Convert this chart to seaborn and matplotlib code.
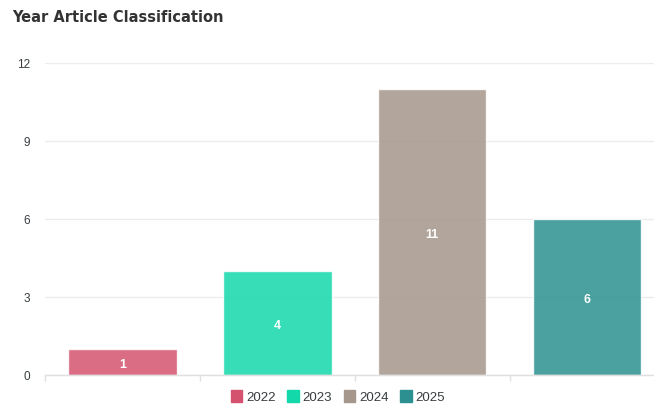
import matplotlib
matplotlib.use("Agg")
import matplotlib.pyplot as plt
import seaborn as sns
import pandas as pd
from matplotlib.patches import Patch
from matplotlib import transforms

years = ["2022", "2023", "2024", "2025"]
counts = [1, 4, 11, 6]
colors = ["#d4526e", "#13d8aa", "#a5978b", "#2b908f"]
yticks = [0, 3, 6, 9, 12]

sns.set_theme(style="white")
plt.rcParams["font.family"] = ["Liberation Sans", "DejaVu Sans"]

df = pd.DataFrame({"year": years, "count": counts})

fig = plt.figure(figsize=(6.54, 4.05), dpi=100)
ax = fig.add_axes([45 / 654, 30 / 405, 619.5 / 654, 312 / 405])

sns.barplot(data=df, x="year", y="count", hue="year", palette=colors,
            width=0.7, alpha=0.85, legend=False, ax=ax, saturation=1)

ax.set_ylim(0, 12)
ax.set_xlim(-0.5, 3.5)
ax.set_yticks(yticks)
ax.set_yticklabels([str(t) for t in yticks], fontsize=8.5, color="#373d3f")
ax.yaxis.grid(True, color="#ececec", linewidth=1)
ax.set_axisbelow(True)
ax.set_xlabel("")
ax.set_ylabel("")
ax.set_xticks([])
ax.set_xticks([-0.5, 0.5, 1.5, 2.5, 3.5], minor=True)
ax.tick_params(axis="x", which="minor", length=4.5, color="#e0e0e0", width=1, bottom=True)
ax.tick_params(axis="y", length=0, pad=11)
for s in ["top", "right", "left"]:
    ax.spines[s].set_visible(False)
ax.spines["bottom"].set_color("#e0e0e0")
ax.spines["bottom"].set_linewidth(1)

offset = transforms.offset_copy(ax.transData, fig=fig, x=0, y=-3, units="dots")
for i, v in enumerate(counts):
    ax.text(i, v / 2, str(v), ha="center", va="center", color="white",
            fontsize=9, fontweight="bold", transform=offset)

fig.text(12 / 654, 1 - 18 / 405, "Year Article Classification", fontsize=10.5,
         fontweight="bold", color="#333333", ha="left", va="center",
         family=["DejaVu Sans"])

handles = [Patch(facecolor=c, edgecolor=c, label=y) for c, y in zip(colors, years)]
fig.legend(handles=handles, loc="center", bbox_to_anchor=(338 / 654, 1 - 397 / 405),
           ncol=4, frameon=False, fontsize=9.5, handlelength=0.85, handleheight=0.95,
           handletextpad=0.3, columnspacing=0.9, labelcolor="#373d3f")

fig.savefig("out.png", dpi=100)
